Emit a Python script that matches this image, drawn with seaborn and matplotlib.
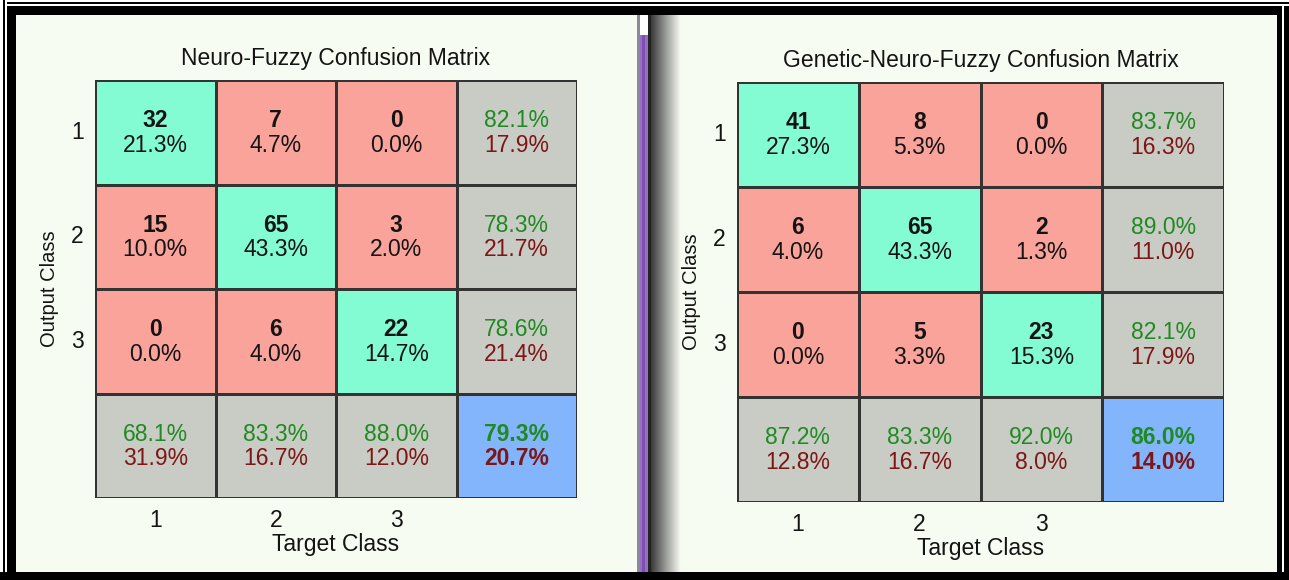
import numpy as np
import matplotlib
matplotlib.use("Agg")
import matplotlib.pyplot as plt
import seaborn as sns
from matplotlib.colors import ListedColormap, LinearSegmentedColormap
from matplotlib.patches import Rectangle

# values read from the two confusion matrices (150 test samples)
classes = ["1", "2", "3"]

nf_title = "Neuro-Fuzzy Confusion Matrix"
nf_counts = [[32, 7, 0], [15, 65, 3], [0, 6, 22]]
nf_pct = [[21.3, 4.7, 0.0], [10.0, 43.3, 2.0], [0.0, 4.0, 14.7]]
nf_row_ok = [82.1, 78.3, 78.6]
nf_col_ok = [68.1, 83.3, 88.0]
nf_total_ok = 79.3

gnf_title = "Genetic-Neuro-Fuzzy Confusion Matrix"
gnf_counts = [[41, 8, 0], [6, 65, 2], [0, 5, 23]]
gnf_pct = [[27.3, 5.3, 0.0], [4.0, 43.3, 1.3], [0.0, 3.3, 15.3]]
gnf_row_ok = [83.7, 89.0, 82.1]
gnf_col_ok = [87.2, 83.3, 92.0]
gnf_total_ok = 86.0

BG = "#f7fcf2"
cell_cmap = ListedColormap(["#84fcd3", "#f9a39a", "#c9ccc4", "#83b5fd"])
GREEN_TXT = "#1f8a22"
RED_TXT = "#7d1616"

sns.set_theme(style="white")
plt.rcParams["font.family"] = ["Liberation Sans", "DejaVu Sans"]


def draw_matrix(ax, title, counts, pct, row_ok, col_ok, total_ok):
    n = len(counts)
    # 0 = correct, 1 = wrong, 2 = summary, 3 = overall
    kind = np.full((n + 1, n + 1), 2)
    for i in range(n):
        for j in range(n):
            kind[i, j] = 0 if i == j else 1
    kind[n, n] = 3

    sns.heatmap(kind, ax=ax, cmap=cell_cmap, vmin=-0.5, vmax=3.5, cbar=False,
                linewidths=2, linecolor="#333333", square=False)

    fs = 16.5
    top, bot = 0.39, 0.625
    for i in range(n):
        for j in range(n):
            ax.text(j + 0.5, i + top, str(counts[i][j]), ha="center", va="center",
                    fontsize=fs, fontweight="bold", color="#141414")
            ax.text(j + 0.5, i + bot, f"{pct[i][j]:.1f}%", ha="center", va="center",
                    fontsize=fs, color="#141414")
    for i in range(n):
        ax.text(n + 0.5, i + top, f"{row_ok[i]:.1f}%", ha="center", va="center",
                fontsize=fs, color=GREEN_TXT)
        ax.text(n + 0.5, i + bot, f"{100 - row_ok[i]:.1f}%", ha="center", va="center",
                fontsize=fs, color=RED_TXT)
    for j in range(n):
        ax.text(j + 0.5, n + top, f"{col_ok[j]:.1f}%", ha="center", va="center",
                fontsize=fs, color=GREEN_TXT)
        ax.text(j + 0.5, n + bot, f"{100 - col_ok[j]:.1f}%", ha="center", va="center",
                fontsize=fs, color=RED_TXT)
    ax.text(n + 0.5, n + top, f"{total_ok:.1f}%", ha="center", va="center",
            fontsize=fs, fontweight="bold", color=GREEN_TXT)
    ax.text(n + 0.5, n + bot, f"{100 - total_ok:.1f}%", ha="center", va="center",
            fontsize=fs, fontweight="bold", color=RED_TXT)

    ax.set_xticks(np.arange(n) + 0.5)
    ax.set_xticklabels(classes, fontsize=16.5, color="#141414")
    ax.set_yticks(np.arange(n) + 0.5)
    ax.set_yticklabels(classes, fontsize=16.5, color="#141414", rotation=0)
    ax.tick_params(length=0, pad=8)
    ax.set_xlabel("Target Class", fontsize=16.5, color="#141414", labelpad=1)
    ax.set_ylabel("Output Class", fontsize=14.5, color="#141414", labelpad=9)
    ax.set_title(title, fontsize=16.5, color="#141414", pad=11)


fig = plt.figure(figsize=(12.89, 5.8), dpi=100, facecolor=BG)
W, H = 1289, 580


def px_axes(x0, y0, x1, y1):
    return fig.add_axes([x0 / W, 1 - y1 / H, (x1 - x0) / W, (y1 - y0) / H])


ax1 = px_axes(95, 80, 577, 498)
draw_matrix(ax1, nf_title, nf_counts, nf_pct, nf_row_ok, nf_col_ok, nf_total_ok)

ax2 = px_axes(737, 82, 1224, 502)
draw_matrix(ax2, gnf_title, gnf_counts, gnf_pct, gnf_row_ok, gnf_col_ok, gnf_total_ok)


def px_rect(x0, y0, x1, y1, color, z=10):
    fig.patches.append(Rectangle((x0 / W, 1 - y1 / H), (x1 - x0) / W, (y1 - y0) / H,
                                 transform=fig.transFigure, facecolor=color,
                                 edgecolor="none", zorder=z))


# window frame
px_rect(0, 0, W, 6, "white")
px_rect(0, 2, W, 4, "black")
px_rect(0, 6, W, 15, "black")
px_rect(0, 0, 7, H, "white")
px_rect(3, 0, 4.5, H, "black")
px_rect(7, 6, 16, H, "black")
px_rect(0, 572, W, H, "black")
px_rect(1277, 6, W, H, "black")
px_rect(1282, 6, 1284, 572, "white")

# splitter between the two panes
px_rect(637, 15, 640, 572, "#8c8a94")
px_rect(640, 15, 648, 35, "white")
px_rect(640, 35, 648, 572, "#9a6cc6")
px_rect(642, 35, 645, 572, "#7d4fb0")
px_rect(648, 15, 651, 572, "#222222")
shade = fig.add_axes([651 / W, 1 - 572 / H, 30 / W, (572 - 15) / H])
shade.imshow(np.linspace(0, 1, 60)[None, :], aspect="auto",
             cmap=LinearSegmentedColormap.from_list("sh", ["#3a3a3a", "#9a9c98", BG]))
shade.set_axis_off()

fig.savefig("out.png", dpi=100, facecolor=BG)
